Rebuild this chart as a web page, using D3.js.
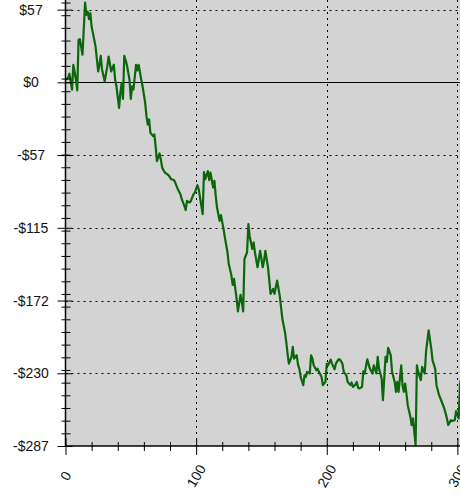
<!DOCTYPE html>
<html>
<head>
<meta charset="utf-8">
<script src="https://cdn.jsdelivr.net/npm/d3@7"></script>
<style>
  html, body { margin: 0; padding: 0; background: #fff; }
  svg { display: block; }
  text { font-family: "Liberation Sans", Arial, sans-serif; }
</style>
</head>
<body>
<svg id="chart" width="460" height="498"></svg>
<script>
// ---- data ----
const trades = [0,2,3,5,6,8,9,10,11,13,15,16,17,18,19,20,22,23,25,26,27,28,30,32,33,35,37,38,39,41,42,43,44,45,47,49,50,51,52,54,55,56,58,59,61,62,63,64,65,67,68,69,70,72,73,74,76,77,79,81,83,84,86,88,89,91,92,93,95,96,98,99,101,102,104,105,106,107,109,110,111,113,114,115,116,118,119,121,122,124,125,127,128,129,130,131,132,134,135,136,137,139,140,141,143,144,145,147,148,149,151,152,153,155,157,159,160,162,164,165,166,168,169,170,171,173,174,175,177,178,179,180,182,183,184,185,187,188,189,190,192,193,194,196,197,199,200,201,203,204,206,207,209,210,212,213,215,216,218,219,220,222,223,224,225,227,228,229,231,233,235,236,238,239,240,242,243,245,246,247,249,250,252,253,254,255,257,258,259,260,261,262,264,265,266,267,268,269,270,272,273,275,276,278,280,281,283,284,286,288,290,292,293,295,296,298,299,301,302,303];
const pnl = [2.1,3.5,6.8,-5.7,13.9,2.1,-6.3,33.6,34.1,21.8,62.9,53.2,55.8,49.8,54.6,44.0,33.6,28.3,8.6,13.9,21.0,10.0,0.8,12.6,20.4,8.6,13.9,2.1,-3.1,-20.1,-8.3,-0.5,-13.1,21.0,13.9,2.1,-13.1,-3.1,-5.7,13.9,9.4,13.9,2.1,-3.1,-16.2,-26.7,-33.3,-29.3,-39.8,-42.5,-41.1,-50.3,-62.1,-56.1,-60.8,-67.3,-71.2,-71.8,-73.4,-76.5,-77.1,-79.1,-84.4,-88.3,-92.2,-97.5,-100.9,-93.6,-94.8,-93.6,-88.3,-87.0,-81.2,-84.4,-97.5,-104.0,-70.8,-76.5,-70.0,-77.1,-71.2,-83.0,-77.8,-89.6,-98.8,-109.3,-104.8,-115.8,-122.3,-134.1,-143.3,-152.5,-159.9,-155.1,-163.0,-170.9,-180.8,-167.7,-173.5,-180.8,-139.4,-134.1,-111.9,-121.6,-131.5,-126.3,-134.1,-145.9,-139.4,-132.9,-145.9,-140.7,-132.9,-145.9,-166.9,-163.0,-166.9,-156.5,-168.3,-177.4,-186.6,-197.0,-204.9,-214.1,-222.0,-216.7,-208.8,-218.0,-215.4,-222.8,-225.9,-232.4,-239.0,-231.2,-232.4,-228.5,-229.8,-215.4,-218.0,-223.3,-227.2,-225.9,-228.5,-232.4,-239.0,-236.4,-222.0,-223.3,-218.8,-222.0,-226.5,-222.0,-218.6,-218.6,-222.0,-228.5,-231.2,-236.4,-239.0,-236.9,-240.3,-238.5,-236.4,-241.1,-241.6,-240.3,-228.0,-229.8,-218.6,-225.9,-229.8,-223.3,-229.8,-216.7,-225.9,-233.8,-250.8,-216.7,-220.6,-209.6,-215.4,-228.5,-236.4,-244.2,-236.4,-244.2,-223.3,-239.0,-244.2,-237.7,-245.6,-254.8,-263.9,-270.5,-265.2,-275.7,-286.2,-223.3,-228.5,-235.1,-224.6,-229.8,-212.8,-195.8,-210.2,-219.4,-225.9,-239.0,-246.9,-252.1,-257.4,-265.2,-270.5,-266.6,-267.3,-266.6,-259.5,-265.2,-237.7,-233.0];
const xMajorTicks = [0, 100, 200, 300];
const xMinorTicks = [20, 40, 60, 80, 120, 140, 160, 180, 220, 240, 260, 280];
const yMajorTicks = [57.4, 0, -57.4, -114.8, -172.2, -229.6, -287];
const yMajorLabels = ["$57", "$0", "-$57", "-$115", "-$172", "-$230", "-$287"];
const yMinorTicks = d3.range(-277, 64, 10);

// ---- layout ----
const L = 65.5, R = 460, T = 0, B = 446;
const x = d3.scaleLinear().domain([0, 302]).range([L, R]);
const y = d3.scaleLinear().domain([-287, 65]).range([B, T]);

const svg = d3.select("#chart");

svg.append("rect").attr("x", L).attr("y", T).attr("width", R - L).attr("height", B - T).attr("fill", "#d3d3d3");

svg.append("defs").append("clipPath").attr("id", "clip")
  .append("rect").attr("x", L).attr("y", T).attr("width", R - L).attr("height", B - T);

// grid
const grid = svg.append("g");
grid.selectAll("line.hg").data(yMajorTicks.filter(v => v !== 0 && v !== -287)).join("line")
  .attr("x1", L).attr("x2", R).attr("y1", d => Math.round(y(d)) + 0.5).attr("y2", d => Math.round(y(d)) + 0.5)
  .attr("stroke", "#000").attr("stroke-width", 1).attr("stroke-dasharray", "2,4");
grid.selectAll("line.vg").data(xMajorTicks.filter(v => v !== 0)).join("line")
  .attr("x1", d => Math.round(x(d)) + 0.5).attr("x2", d => Math.round(x(d)) + 0.5).attr("y1", T).attr("y2", B)
  .attr("stroke", "#000").attr("stroke-width", 1).attr("stroke-dasharray", "2,4");
// zero line
svg.append("line").attr("x1", L).attr("x2", R).attr("y1", Math.round(y(0)) + 0.5).attr("y2", Math.round(y(0)) + 0.5)
  .attr("stroke", "#000").attr("stroke-width", 1);

// line
const pts = trades.map((t, i) => [t, pnl[i]]);
svg.append("path").datum(pts).attr("clip-path", "url(#clip)")
  .attr("fill", "none").attr("stroke", "#0b670b").attr("stroke-width", 2.2).attr("stroke-linejoin", "round")
  .attr("d", d3.line().x(d => x(d[0])).y(d => y(d[1])));

// axes
function styleAxis(g) { g.select(".domain").remove(); g.selectAll("line").attr("stroke", "#000"); }
svg.append("g").attr("transform", `translate(${L},0)`)
  .call(d3.axisLeft(y).tickValues(yMajorTicks).tickSize(8).tickSizeOuter(0).tickFormat(""))
  .call(styleAxis);
svg.append("g").attr("transform", `translate(${L},0)`)
  .call(d3.axisRight(y).tickValues(yMajorTicks).tickSize(7).tickSizeOuter(0).tickFormat(""))
  .call(styleAxis);
svg.append("g").attr("transform", `translate(${L},0)`)
  .call(d3.axisLeft(y).tickValues(yMinorTicks).tickSize(4).tickSizeOuter(0).tickFormat(""))
  .call(styleAxis);
svg.append("g").attr("transform", `translate(${L},0)`)
  .call(d3.axisRight(y).tickValues(yMinorTicks).tickSize(5).tickSizeOuter(0).tickFormat(""))
  .call(styleAxis);

svg.append("g").attr("transform", `translate(0,${B})`)
  .call(d3.axisBottom(x).tickValues(xMajorTicks).tickSize(9).tickSizeOuter(0).tickFormat(""))
  .call(styleAxis);
svg.append("g").attr("transform", `translate(0,${B})`)
  .call(d3.axisTop(x).tickValues(xMajorTicks).tickSize(8).tickSizeOuter(0).tickFormat(""))
  .call(styleAxis);
svg.append("g").attr("transform", `translate(0,${B})`)
  .call(d3.axisBottom(x).tickValues(xMinorTicks).tickSize(5).tickSizeOuter(0).tickFormat(""))
  .call(styleAxis);
svg.append("g").attr("transform", `translate(0,${B})`)
  .call(d3.axisTop(x).tickValues(xMinorTicks).tickSize(4).tickSizeOuter(0).tickFormat(""))
  .call(styleAxis);

// axis lines
svg.append("line").attr("x1", L).attr("x2", L).attr("y1", T).attr("y2", B + 0.5).attr("stroke", "#000").attr("stroke-width", 1.5);
svg.append("line").attr("x1", L).attr("x2", R).attr("y1", B).attr("y2", B).attr("stroke", "#000").attr("stroke-width", 1.5);

// labels
svg.append("g").selectAll("text").data(yMajorTicks).join("text")
  .attr("x", 31).attr("y", d => y(d)).attr("text-anchor", "middle").attr("dominant-baseline", "central")
  .attr("font-size", 14).attr("fill", "#111")
  .text((d, i) => yMajorLabels[i]);
svg.append("g").selectAll("text").data(xMajorTicks).join("text")
  .attr("transform", d => `translate(${x(d)},${B + 30}) rotate(-60)`)
  .attr("text-anchor", "middle").attr("dominant-baseline", "central")
  .attr("font-size", 14).attr("fill", "#111")
  .text(d => String(d));
</script>
</body>
</html>
